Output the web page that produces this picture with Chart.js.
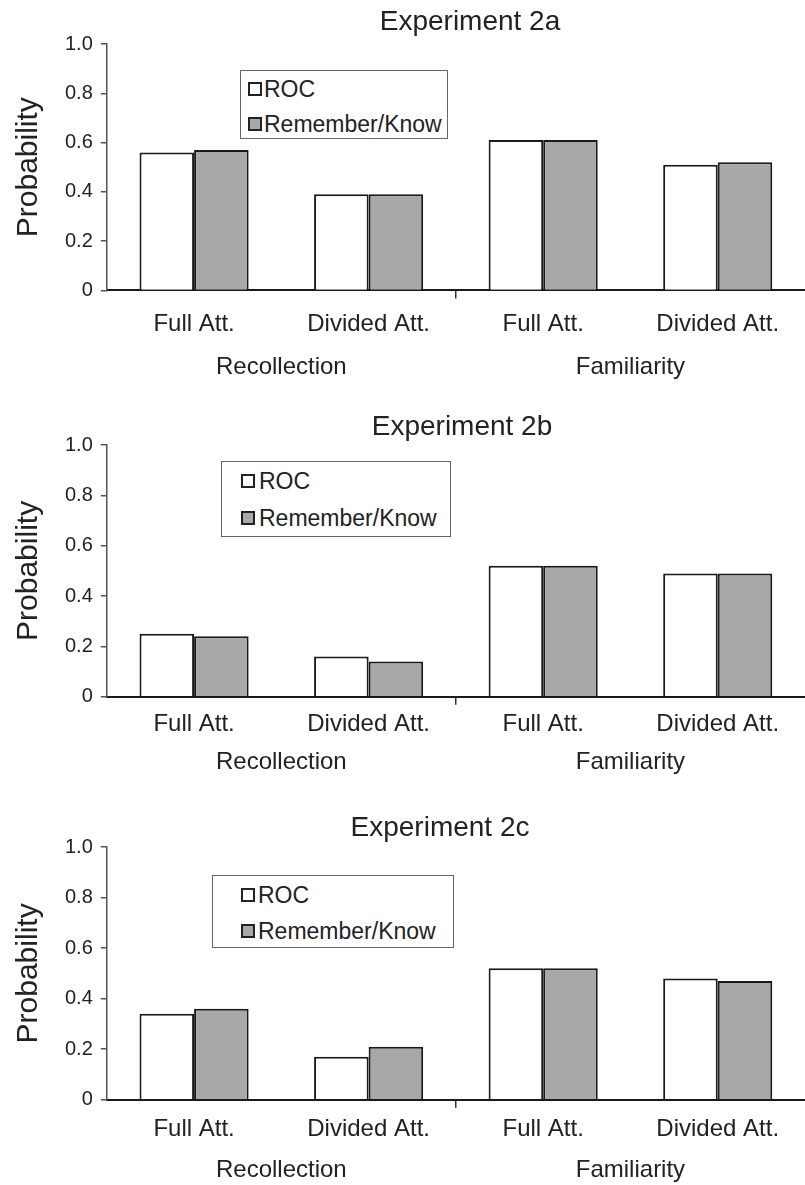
<!DOCTYPE html>
<html><head><meta charset="utf-8">
<script src="https://cdn.jsdelivr.net/npm/chart.js@4/dist/chart.umd.min.js"></script>
<style>
html,body{margin:0;padding:0;background:#fff;width:805px;height:1185px;overflow:hidden;}
.panel{position:absolute;left:0;}
.legend{position:absolute;background:#fff;border:1.5px solid #666;box-sizing:border-box;font-family:'Liberation Sans',Arial,sans-serif;font-size:23px;color:#222;}
.row{position:absolute;left:0;right:0;height:0;}
.sw{position:absolute;width:14px;height:14px;border:2px solid #222;box-sizing:border-box;top:-7px;}
.tx{position:absolute;top:-13px;line-height:26px;white-space:nowrap;}
</style></head>
<body>
<script>
// ---- data ----
const categories = ['Full Att.', 'Divided Att.', 'Full Att.', 'Divided Att.'];
const groupLabels = ['Recollection', 'Familiarity'];
const seriesNames = ['ROC', 'Remember/Know'];
const panelTitles = ['Experiment 2a', 'Experiment 2b', 'Experiment 2c'];
const exp2aROC = [0.56, 0.39, 0.61, 0.51];
const exp2aRK  = [0.57, 0.39, 0.61, 0.52];
const exp2bROC = [0.25, 0.16, 0.52, 0.49];
const exp2bRK  = [0.24, 0.14, 0.52, 0.49];
const exp2cROC = [0.34, 0.17, 0.52, 0.48];
const exp2cRK  = [0.36, 0.21, 0.52, 0.47];
const yAxisTitle = 'Probability';

// ---- layout (not data) ----
const FONT = "'Liberation Sans', Arial, Helvetica, sans-serif";
const seriesColors = ['#ffffff', '#a8a8a8'];
const layouts = [
  {top: 0,   plotH: 260, tPadTop: 5.2, tPadBot: 5.2, xPad: 12, x2Pad: 2, titleCx: 470,
   legend: {left: 240, top: 70, w: 208, h: 69, rows: [18, 53], sq: 7, tx: 23}},
  {top: 401, plotH: 261, tPadTop: 9.2, tPadBot: 1.2, xPad: 5.6, x2Pad: 3.2, titleCx: 462,
   legend: {left: 221, top: 461, w: 230, h: 76, rows: [19, 56], sq: 19, tx: 37}},
  {top: 803, plotH: 265, tPadTop: 8.2, tPadBot: 2.2, xPad: 7.6, x2Pad: 4.2, titleCx: 440,
   legend: {left: 212, top: 875, w: 242, h: 73, rows: [19, 55], sq: 28, tx: 45}}
];
const seriesByPanel = [[exp2aROC, exp2aRK], [exp2bROC, exp2bRK], [exp2cROC, exp2cRK]];

Chart.defaults.font.family = FONT;
Chart.defaults.color = '#222';

// shifts the title block horizontally (title is not centred on the canvas in the reference)
const titleShift = {
  id: 'titleShift',
  afterLayout(chart, args, opts) {
    const t = chart.titleBlock;
    if (t && opts && opts.cx != null) {
      const dx = opts.cx - (t.left + t.right) / 2;
      t.left += dx; t.right += dx;
    }
  }
};

layouts.forEach((L, p) => {
  const xH = 8 + L.xPad + 24 * 1.2;
  const x2H = L.x2Pad + 24 * 1.2;
  const titleH = 28 * 1.2 + L.tPadTop + L.tPadBot;
  const H = Math.round(titleH + L.plotH + xH + x2H);
  const wrap = document.createElement('div');
  wrap.className = 'panel';
  wrap.style.top = L.top + 'px';
  const cv = document.createElement('canvas');
  cv.width = 805; cv.height = H;
  cv.style.width = '805px'; cv.style.height = H + 'px';
  wrap.appendChild(cv);
  document.body.appendChild(wrap);

  const datasets = seriesNames.map((name, i) => ({
    label: name,
    data: seriesByPanel[p][i],
    backgroundColor: seriesColors[i],
    borderColor: '#1a1a1a',
    borderWidth: 2,
    borderSkipped: 'start',
    barPercentage: 1.0,
    categoryPercentage: 0.625
  }));

  new Chart(cv, {
    type: 'bar',
    data: {labels: categories, datasets},
    plugins: [titleShift],
    options: {
      responsive: false,
      animation: false,
      devicePixelRatio: 1,
      layout: {padding: {left: 0, right: 0, top: 0, bottom: 0}},
      plugins: {
        legend: {display: false},
        tooltip: {enabled: false},
        titleShift: {cx: L.titleCx},
        title: {display: true, text: panelTitles[p], font: {size: 28, weight: 'normal', lineHeight: 1.2},
                color: '#222', padding: {top: L.tPadTop, bottom: L.tPadBot}}
      },
      scales: {
        x: {
          type: 'category',
          offset: true,
          grid: {offset: true, drawOnChartArea: false, drawTicks: true, tickLength: 8, lineWidth: 1.5,
                 color: c => c.index === 2 ? '#333' : 'rgba(0,0,0,0)'},
          border: {color: '#1a1a1a', width: 2},
          ticks: {font: {size: 24, lineHeight: 1.2}, color: '#222', padding: L.xPad, maxRotation: 0, minRotation: 0, autoSkip: false}
        },
        y: {
          min: 0, max: 1,
          grid: {drawOnChartArea: false, drawTicks: true, tickLength: 6, color: '#555', lineWidth: 1.5},
          border: {color: '#555', width: 1.5},
          ticks: {stepSize: 0.2, font: {size: 20, lineHeight: 1.2}, color: '#222', padding: 8,
                  callback: v => v === 0 ? '0' : v.toFixed(1)},
          title: {display: true, text: yAxisTitle, font: {size: 30, lineHeight: 1.2}, color: '#222',
                  padding: {top: 11, bottom: 10}}
        },
        x2: {
          type: 'category',
          labels: groupLabels,
          position: 'bottom',
          offset: true,
          grid: {display: false, drawTicks: false},
          border: {display: false},
          ticks: {font: {size: 24, lineHeight: 1.2}, color: '#222', padding: L.x2Pad, maxRotation: 0, minRotation: 0, autoSkip: false}
        }
      }
    }
  });

  // HTML legend built from the datasets
  const lg = document.createElement('div');
  lg.className = 'legend';
  lg.style.left = L.legend.left + 'px';
  lg.style.top = L.legend.top + 'px';
  lg.style.width = L.legend.w + 'px';
  lg.style.height = L.legend.h + 'px';
  datasets.forEach((ds, i) => {
    const row = document.createElement('div');
    row.className = 'row';
    row.style.top = L.legend.rows[i] + 'px';
    const sw = document.createElement('div');
    sw.className = 'sw';
    sw.style.left = L.legend.sq + 'px';
    sw.style.background = ds.backgroundColor;
    const tx = document.createElement('div');
    tx.className = 'tx';
    tx.style.left = L.legend.tx + 'px';
    tx.textContent = ds.label;
    row.appendChild(sw); row.appendChild(tx);
    lg.appendChild(row);
  });
  document.body.appendChild(lg);
});
</script>
</body></html>
